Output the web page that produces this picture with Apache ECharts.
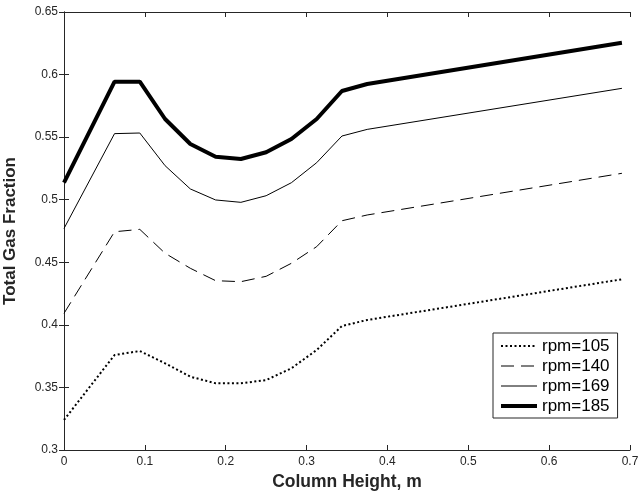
<!DOCTYPE html>
<html>
<head>
<meta charset="utf-8">
<script src="https://cdn.jsdelivr.net/npm/echarts@6/dist/echarts.min.js"></script>
<style>
  html, body { margin: 0; padding: 0; background: #fff; }
  #chart { width: 640px; height: 495px; }
</style>
</head>
<body>
<div id="chart"></div>
<script>
// Column height positions (m)
const heights = [0, 0.0625, 0.09375, 0.125, 0.15625, 0.1875, 0.21875, 0.25, 0.28125, 0.3125, 0.34375, 0.375, 0.69];

// Total gas fraction at each stirring speed
const rpm105 = [0.324, 0.3759, 0.3791, 0.3693, 0.3586, 0.3533, 0.3533, 0.3559, 0.3653, 0.3799, 0.3991, 0.4039, 0.4364];
const rpm140 = [0.4092, 0.4744, 0.4763, 0.4572, 0.4452, 0.4353, 0.4345, 0.4388, 0.4492, 0.4625, 0.4832, 0.4878, 0.5211];
const rpm169 = [0.4770, 0.5528, 0.5533, 0.5272, 0.5086, 0.4998, 0.4979, 0.5032, 0.5136, 0.5296, 0.5509, 0.5562, 0.5890];
const rpm185 = [0.5136, 0.5943, 0.5943, 0.5645, 0.5445, 0.5344, 0.5325, 0.5379, 0.5485, 0.5645, 0.5869, 0.5925, 0.6255];

const seriesNames = ['rpm=105', 'rpm=140', 'rpm=169', 'rpm=185'];

const FONT = '"Liberation Sans", Arial, Helvetica, sans-serif';
const AXIS_COLOR = '#262626';

// Line style per speed, shared by the curves and their legend samples
const lineStyles = [
  { color: '#000', width: 2, type: [2, 2.5] },
  { color: '#000', width: 1, type: [13, 7] },
  { color: '#000', width: 1, type: 'solid' },
  { color: '#000', width: 4, type: 'solid' }
];
const seriesData = [rpm105, rpm140, rpm169, rpm185];

function pairs(ys) {
  return heights.map((x, i) => [x, ys[i]]);
}

const chart = echarts.init(document.getElementById('chart'), null, { renderer: 'canvas' });

const axisLine = { show: true, lineStyle: { color: AXIS_COLOR, width: 1 } };
const axisTick = { show: true, inside: true, length: 5, lineStyle: { color: AXIS_COLOR, width: 1 } };

chart.setOption({
  animation: false,
  backgroundColor: '#ffffff',
  textStyle: { fontFamily: FONT },
  grid: { left: 64, right: 10, top: 12, bottom: 45, containLabel: false, outerBoundsMode: 'none' },
  legend: {
    orient: 'vertical',
    left: 493,
    top: 333,
    data: seriesNames.map((name, i) => ({
      name,
      lineStyle: Object.assign({}, lineStyles[i]),
      itemStyle: { color: 'rgba(0,0,0,0)', borderWidth: 0, opacity: 0 }
    })),
    itemWidth: 36,
    itemHeight: 14,
    itemGap: 0,
    padding: [3, 8, 2, 6],
    borderColor: AXIS_COLOR,
    borderWidth: 1,
    backgroundColor: '#ffffff',
    textStyle: { fontFamily: FONT, fontSize: 17, color: '#000', lineHeight: 20 }
  },
  xAxis: [
    {
      type: 'value', position: 'bottom', min: 0, max: 0.7, interval: 0.1,
      axisLine, axisTick, splitLine: { show: false },
      axisLabel: { color: AXIS_COLOR, fontSize: 12, margin: 6, fontFamily: FONT },
      name: 'Column Height, m', nameLocation: 'middle', nameGap: 22,
      nameTextStyle: { fontSize: 17.5, fontWeight: 'bold', color: AXIS_COLOR, fontFamily: FONT }
    },
    {
      type: 'value', position: 'top', min: 0, max: 0.7, interval: 0.1,
      axisLine, axisTick, splitLine: { show: false }, axisLabel: { show: false }
    }
  ],
  yAxis: [
    {
      type: 'value', position: 'left', min: 0.3, max: 0.65, interval: 0.05,
      axisLine, axisTick, splitLine: { show: false },
      axisLabel: { color: AXIS_COLOR, fontSize: 12, margin: 6, fontFamily: FONT },
      name: 'Total Gas Fraction', nameLocation: 'middle', nameGap: 45, nameRotate: 90,
      nameTextStyle: { fontSize: 17, fontWeight: 'bold', color: AXIS_COLOR, fontFamily: FONT }
    },
    {
      type: 'value', position: 'right', min: 0.3, max: 0.65, interval: 0.05,
      axisLine, axisTick, splitLine: { show: false }, axisLabel: { show: false }
    }
  ],
  series: seriesNames.map((name, i) => ({
    name,
    type: 'line',
    data: pairs(seriesData[i]),
    symbol: 'none',
    lineStyle: lineStyles[i],
    itemStyle: { color: '#000' }
  }))
});
</script>
</body>
</html>
